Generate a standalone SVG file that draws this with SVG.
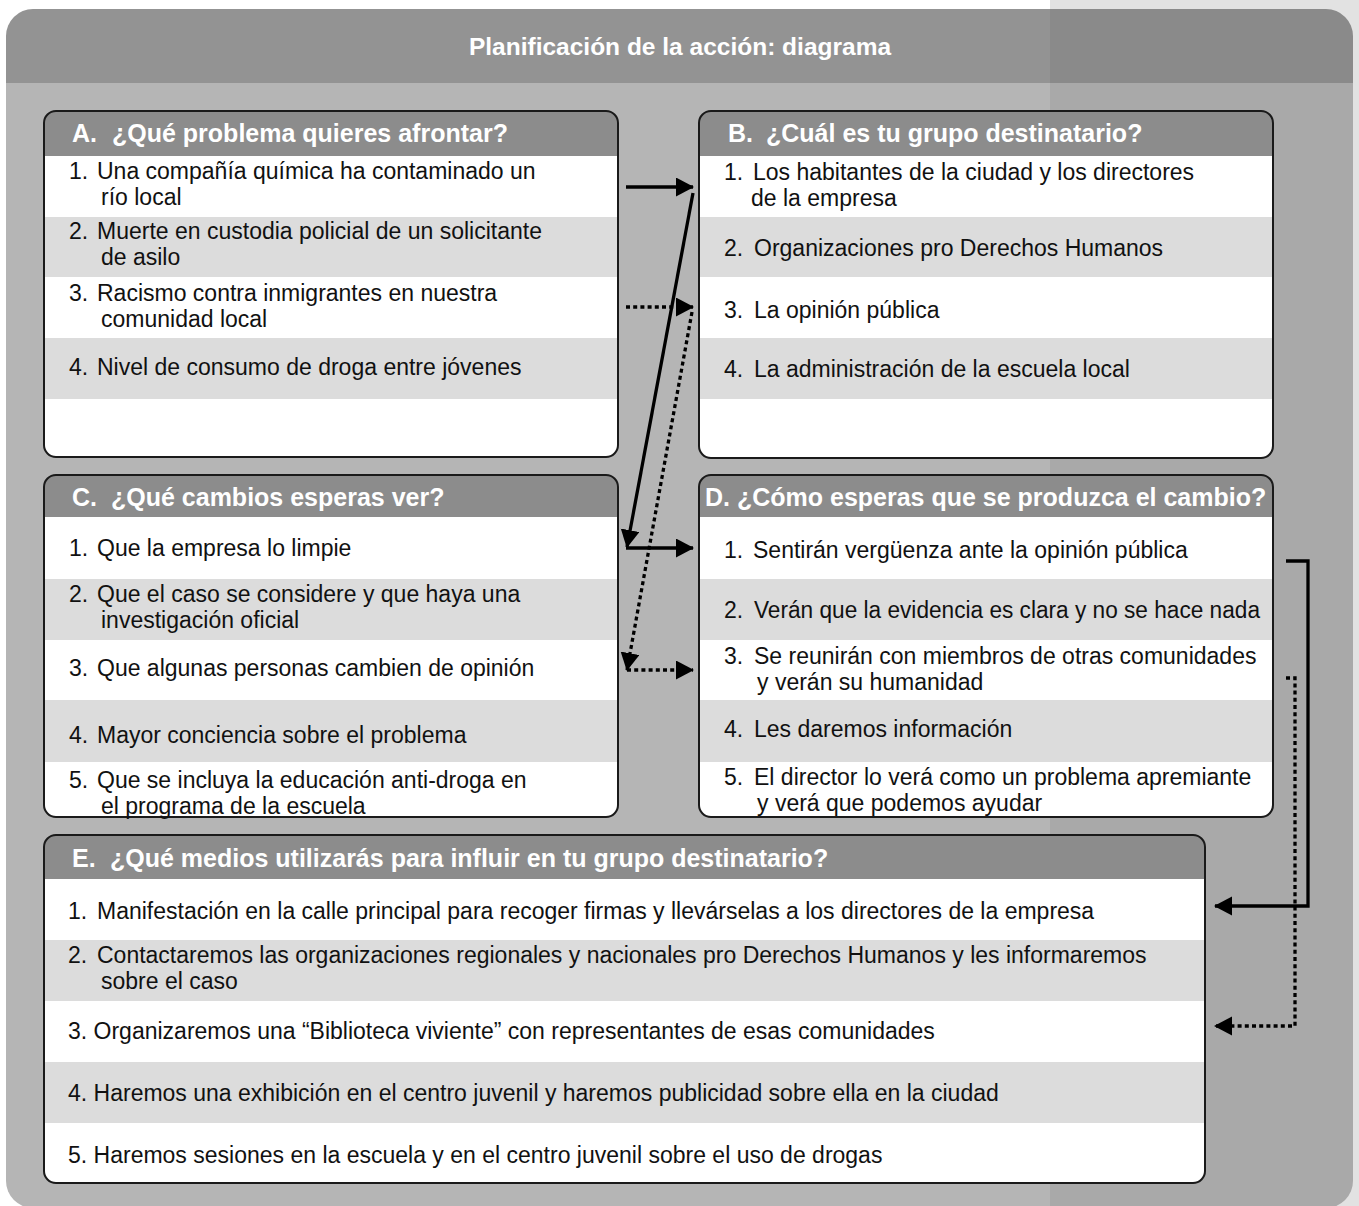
<svg xmlns="http://www.w3.org/2000/svg" width="1359" height="1206" viewBox="0 0 1359 1206">
<style>
.t{font-family:"Liberation Sans",Arial,sans-serif;font-size:23px;fill:#111}
.h{font-family:"Liberation Sans",Arial,sans-serif;font-size:25px;font-weight:bold;fill:#fff}
.ti{font-family:"Liberation Sans",Arial,sans-serif;font-size:24.5px;font-weight:bold;fill:#fff}
.hb{fill:#8c8c8c}
.gr{fill:#dcdcdc}
.wh{fill:#fff}
.ol{fill:none;stroke:#1a1a1a;stroke-width:2}
.c{fill:none;stroke:#000;stroke-width:3.3}
.d{fill:none;stroke:#000;stroke-width:3.3;stroke-dasharray:4 3.2}
</style>
<defs>
<marker id="ah" markerUnits="userSpaceOnUse" markerWidth="20" markerHeight="20" refX="17" refY="9.5" orient="auto" viewBox="0 0 20 20">
<path d="M0,0 L18,9.5 L0,19 z" fill="#000"/>
</marker>
<clipPath id="panel"><rect x="6" y="9" width="1347" height="1199" rx="27"/></clipPath>
<clipPath id="cA"><rect x="44" y="111" width="574" height="346" rx="12"/></clipPath>
<clipPath id="cB"><rect x="699" y="111" width="574" height="347" rx="12"/></clipPath>
<clipPath id="cC"><rect x="44" y="475" width="574" height="342" rx="12"/></clipPath>
<clipPath id="cD"><rect x="699" y="475" width="574" height="342" rx="12"/></clipPath>
<clipPath id="cE"><rect x="44" y="835" width="1161" height="348" rx="12"/></clipPath>
</defs>

<g id="background">
<rect width="1359" height="1206" fill="#fff"/>
<rect x="1050" y="0" width="309" height="1206" fill="#e2e2e2"/>
<g clip-path="url(#panel)">
<rect x="0" y="0" width="1050" height="83" fill="#939393"/>
<rect x="1050" y="0" width="309" height="83" fill="#8a8a8a"/>
<rect x="0" y="83" width="1050" height="1130" fill="#b5b5b5"/>
<rect x="1050" y="83" width="309" height="1130" fill="#a9a9a9"/>
</g>
<text class="ti" x="680" y="55" text-anchor="middle">Planificación de la acción: diagrama</text>
</g>

<g id="boxA">
<g clip-path="url(#cA)">
<rect class="wh" x="44" y="111" width="574" height="346"/>
<rect class="hb" x="44" y="111" width="574" height="45"/>
<rect class="gr" x="44" y="217" width="574" height="60"/>
<rect class="gr" x="44" y="338" width="574" height="61"/>
</g>
<rect class="ol" x="44" y="111" width="574" height="346" rx="12"/>
<text class="h" y="142"><tspan x="72">A.</tspan><tspan x="112">¿Qué problema quieres afrontar?</tspan></text>
<text class="t" y="179"><tspan x="69">1.</tspan><tspan x="97">Una compañía química ha contaminado un</tspan></text>
<text class="t" x="101" y="205">río local</text>
<text class="t" y="239"><tspan x="69">2.</tspan><tspan x="97">Muerte en custodia policial de un solicitante</tspan></text>
<text class="t" x="101" y="265">de asilo</text>
<text class="t" y="301"><tspan x="69">3.</tspan><tspan x="97">Racismo contra inmigrantes en nuestra</tspan></text>
<text class="t" x="101" y="327">comunidad local</text>
<text class="t" y="375"><tspan x="69">4.</tspan><tspan x="97">Nivel de consumo de droga entre jóvenes</tspan></text>
</g>

<g id="boxB">
<g clip-path="url(#cB)">
<rect class="wh" x="699" y="111" width="574" height="347"/>
<rect class="hb" x="699" y="111" width="574" height="45"/>
<rect class="gr" x="699" y="217" width="574" height="60"/>
<rect class="gr" x="699" y="338" width="574" height="61"/>
</g>
<rect class="ol" x="699" y="111" width="574" height="347" rx="12"/>
<text class="h" y="142"><tspan x="728">B.</tspan><tspan x="766">¿Cuál es tu grupo destinatario?</tspan></text>
<text class="t" y="180"><tspan x="724">1.</tspan><tspan x="753">Los habitantes de la ciudad y los directores</tspan></text>
<text class="t" x="751" y="206">de la empresa</text>
<text class="t" y="256"><tspan x="724">2.</tspan><tspan x="754">Organizaciones pro Derechos Humanos</tspan></text>
<text class="t" y="318"><tspan x="724">3.</tspan><tspan x="754">La opinión pública</tspan></text>
<text class="t" y="377"><tspan x="724">4.</tspan><tspan x="754">La administración de la escuela local</tspan></text>
</g>

<g id="boxC">
<g clip-path="url(#cC)">
<rect class="wh" x="44" y="475" width="574" height="342"/>
<rect class="hb" x="44" y="475" width="574" height="42"/>
<rect class="gr" x="44" y="579" width="574" height="61"/>
<rect class="gr" x="44" y="700" width="574" height="62"/>
</g>
<rect class="ol" x="44" y="475" width="574" height="342" rx="12"/>
<text class="h" y="506"><tspan x="72">C.</tspan><tspan x="111">¿Qué cambios esperas ver?</tspan></text>
<text class="t" y="556"><tspan x="69">1.</tspan><tspan x="97">Que la empresa lo limpie</tspan></text>
<text class="t" y="602"><tspan x="69">2.</tspan><tspan x="97">Que el caso se considere y que haya una</tspan></text>
<text class="t" x="101" y="628">investigación oficial</text>
<text class="t" y="676"><tspan x="69">3.</tspan><tspan x="97">Que algunas personas cambien de opinión</tspan></text>
<text class="t" y="743"><tspan x="69">4.</tspan><tspan x="97">Mayor conciencia sobre el problema</tspan></text>
<text class="t" y="788"><tspan x="69">5.</tspan><tspan x="97">Que se incluya la educación anti-droga en</tspan></text>
<text class="t" x="101" y="814">el programa de la escuela</text>
</g>

<g id="boxD">
<g clip-path="url(#cD)">
<rect class="wh" x="699" y="475" width="574" height="342"/>
<rect class="hb" x="699" y="475" width="574" height="42"/>
<rect class="gr" x="699" y="579" width="574" height="61"/>
<rect class="gr" x="699" y="700" width="574" height="62"/>
</g>
<rect class="ol" x="699" y="475" width="574" height="342" rx="12"/>
<text class="h" x="705" y="506">D. ¿Cómo esperas que se produzca el cambio?</text>
<text class="t" y="558"><tspan x="724">1.</tspan><tspan x="753">Sentirán vergüenza ante la opinión pública</tspan></text>
<text class="t" y="618"><tspan x="724">2.</tspan><tspan x="754" textLength="506" lengthAdjust="spacingAndGlyphs">Verán que la evidencia es clara y no se hace nada</tspan></text>
<text class="t" y="664"><tspan x="724">3.</tspan><tspan x="754">Se reunirán con miembros de otras comunidades</tspan></text>
<text class="t" x="757" y="690">y verán su humanidad</text>
<text class="t" y="737"><tspan x="724">4.</tspan><tspan x="754">Les daremos información</tspan></text>
<text class="t" y="785"><tspan x="724">5.</tspan><tspan x="754">El director lo verá como un problema apremiante</tspan></text>
<text class="t" x="757" y="811">y verá que podemos ayudar</text>
</g>

<g id="boxE">
<g clip-path="url(#cE)">
<rect class="wh" x="44" y="835" width="1161" height="348"/>
<rect class="hb" x="44" y="835" width="1161" height="44"/>
<rect class="gr" x="44" y="940" width="1161" height="61"/>
<rect class="gr" x="44" y="1062" width="1161" height="61"/>
</g>
<rect class="ol" x="44" y="835" width="1161" height="348" rx="12"/>
<text class="h" y="867"><tspan x="72">E.</tspan><tspan x="110">¿Qué medios utilizarás para influir en tu grupo destinatario?</tspan></text>
<text class="t" y="919"><tspan x="68">1.</tspan><tspan x="97">Manifestación en la calle principal para recoger firmas y llevárselas a los directores de la empresa</tspan></text>
<text class="t" y="963"><tspan x="68">2.</tspan><tspan x="97">Contactaremos las organizaciones regionales y nacionales pro Derechos Humanos y les informaremos</tspan></text>
<text class="t" x="101" y="989">sobre el caso</text>
<text class="t" x="68" y="1039">3. Organizaremos una “Biblioteca viviente” con representantes de esas comunidades</text>
<text class="t" x="68" y="1101">4. Haremos una exhibición en el centro juvenil y haremos publicidad sobre ella en la ciudad</text>
<text class="t" x="68" y="1163">5. Haremos sesiones en la escuela y en el centro juvenil sobre el uso de drogas</text>
</g>

<g id="connectors">
<path class="c" d="M626,187 H693" marker-end="url(#ah)"/>
<path class="c" d="M693,193 L627,547" marker-end="url(#ah)"/>
<path class="c" d="M626,548 H693" marker-end="url(#ah)"/>
<path class="d" d="M626,307 H693" marker-end="url(#ah)"/>
<path class="d" d="M692,312 L627,670" marker-end="url(#ah)"/>
<path class="d" d="M627,670 H693" marker-end="url(#ah)"/>
<path class="c" d="M1286,561 H1308 V906 H1215" marker-end="url(#ah)"/>
<path class="d" d="M1286,678 H1295 V1026 H1215" marker-end="url(#ah)"/>
</g>
</svg>
